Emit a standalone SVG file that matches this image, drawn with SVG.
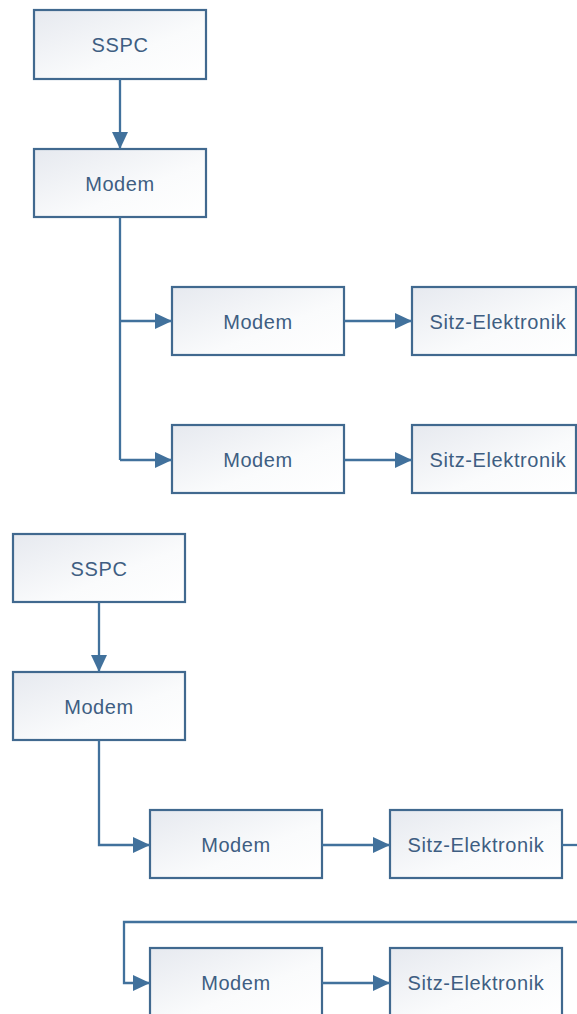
<svg xmlns="http://www.w3.org/2000/svg" width="577" height="1014" viewBox="0 0 577 1014">
  <style>
    .box rect { fill: url(#boxFill); stroke: #41698F; stroke-width: 2.2; }
    .box text { font-family: "Liberation Sans", Arial, sans-serif; font-size: 20px; fill: #3E5E82; text-anchor: middle; dominant-baseline: central; letter-spacing: 0.6px; }
    .wire { fill: none; stroke: #41719C; stroke-width: 2.3; marker-end: url(#arrow); }
    .plain { fill: none; stroke: #41719C; stroke-width: 2.3; }
  </style>
  <defs>
    <linearGradient id="boxFill" x1="0" y1="0" x2="1" y2="1">
      <stop offset="0" stop-color="#E6E9EF"/>
      <stop offset="0.6" stop-color="#FAFBFC"/>
      <stop offset="1" stop-color="#FFFFFF"/>
    </linearGradient>
    <marker id="arrow" viewBox="0 0 17 16" refX="17" refY="8" markerWidth="17" markerHeight="16" markerUnits="userSpaceOnUse" orient="auto">
      <path d="M0,0 L17,8 L0,16 Z" fill="#41719C"/>
    </marker>
  </defs>

  <!-- upper chain -->
  <g id="sspc1" class="box"><rect x="34" y="10" width="172" height="69"/><text x="120" y="45">SSPC</text></g>
  <g id="modem1" class="box"><rect x="34" y="149" width="172" height="68"/><text x="120" y="184">Modem</text></g>
  <g id="modem2" class="box"><rect x="172" y="287" width="172" height="68"/><text x="258" y="322">Modem</text></g>
  <g id="seat1" class="box"><rect x="412" y="287" width="164" height="68"/><text x="498" y="322">Sitz-Elektronik</text></g>
  <g id="modem3" class="box"><rect x="172" y="425" width="172" height="68"/><text x="258" y="460">Modem</text></g>
  <g id="seat2" class="box"><rect x="412" y="425" width="164" height="68"/><text x="498" y="460">Sitz-Elektronik</text></g>

  <!-- lower chain -->
  <g id="sspc2" class="box"><rect x="13" y="534" width="172" height="68"/><text x="99" y="569">SSPC</text></g>
  <g id="modem4" class="box"><rect x="13" y="672" width="172" height="68"/><text x="99" y="707">Modem</text></g>
  <g id="modem5" class="box"><rect x="150" y="810" width="172" height="68"/><text x="236" y="845">Modem</text></g>
  <g id="seat3" class="box"><rect x="390" y="810" width="172" height="68"/><text x="476" y="845">Sitz-Elektronik</text></g>
  <g id="modem6" class="box"><rect x="150" y="948" width="172" height="68"/><text x="236" y="983">Modem</text></g>
  <g id="seat4" class="box"><rect x="390" y="948" width="172" height="68"/><text x="476" y="983">Sitz-Elektronik</text></g>

  <g id="connectors">
    <path class="wire" d="M120,79 V149"/>
    <path class="plain" d="M120,217 V460"/>
    <path class="wire" d="M120,321 H172"/>
    <path class="wire" d="M120,460 H172"/>
    <path class="wire" d="M344,321 H412"/>
    <path class="wire" d="M344,460 H412"/>

    <path class="wire" d="M99,602 V672"/>
    <path class="wire" d="M99,740 V845 H150"/>
    <path class="wire" d="M322,845 H390"/>
    <path class="plain" d="M562,845 H577"/>
    <path class="wire" d="M577,922 H124 V983 H150"/>
    <path class="wire" d="M322,983 H390"/>
  </g>
</svg>
